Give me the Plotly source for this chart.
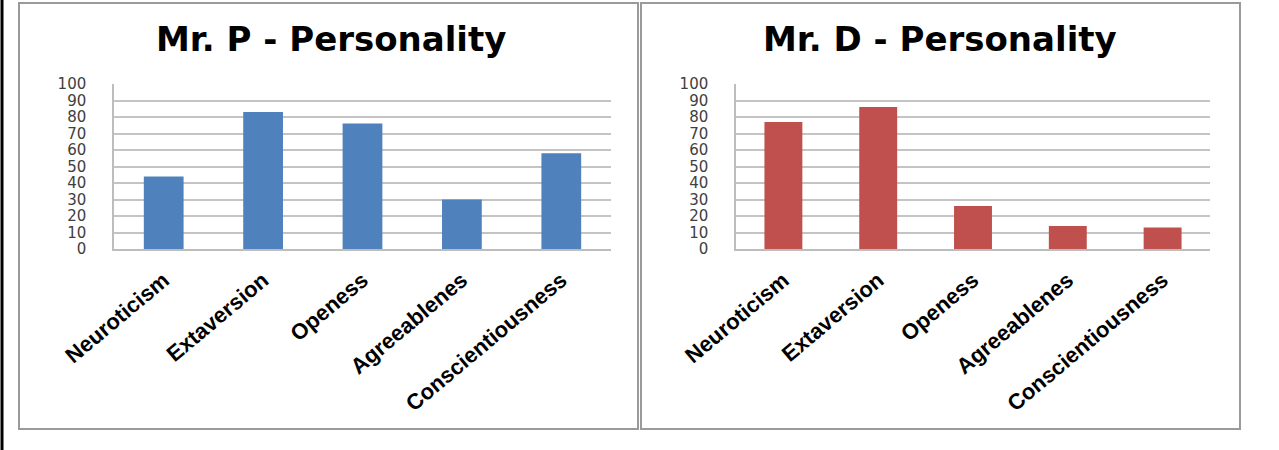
import plotly.graph_objects as go

# Big Five personality scores for two people
traits = ["Neuroticism", "Extaversion", "Openess", "Agreeablenes", "Conscientiousness"]
mr_p_scores = [44, 83, 76, 30, 58]
mr_d_scores = [77, 86, 26, 14, 13]
y_ticks = [0, 10, 20, 30, 40, 50, 60, 70, 80, 90, 100]

W, H = 1279, 450


def px_x(x):
    return x / W


def px_y(y):
    return 1 - y / H


fig = go.Figure()
fig.add_trace(go.Bar(x=traits, y=mr_p_scores, marker=dict(color="#4F81BD", line_width=0),
                     xaxis="x", yaxis="y", showlegend=False))
fig.add_trace(go.Bar(x=traits, y=mr_d_scores, marker=dict(color="#C0504D", line_width=0),
                     xaxis="x2", yaxis="y2", showlegend=False))

tick_font = dict(family="DejaVu Sans", size=15, color="#404040")
cat_font = dict(family="Liberation Sans", size=22, color="#000000", weight="bold")

yaxis_common = dict(
    range=[0, 100], tickvals=y_ticks, ticktext=[str(v) for v in y_ticks],
    showgrid=True, gridcolor="#c4c4c4", gridwidth=1.5,
    showline=True, linecolor="#bdbdbd", linewidth=1.5,
    ticks="outside", ticklen=23, tickcolor="rgba(0,0,0,0)",
    tickfont=tick_font, zeroline=False, fixedrange=True, automargin=False,
)
xaxis_common = dict(
    showline=True, linecolor="#bdbdbd", linewidth=1.5,
    tickangle=-40, tickfont=cat_font,
    ticks="outside", ticklen=8, tickcolor="rgba(0,0,0,0)",
    showgrid=False, fixedrange=True, automargin=False,
)

y_dom = [px_y(249), px_y(84)]
fig.update_layout(
    width=W, height=H,
    margin=dict(l=0, r=0, t=0, b=0, autoexpand=False),
    paper_bgcolor="white", plot_bgcolor="white",
    bargap=0.6,
    xaxis=dict(domain=[px_x(114), px_x(611)], anchor="y", **xaxis_common),
    yaxis=dict(domain=y_dom, anchor="x", **yaxis_common),
    xaxis2=dict(domain=[px_x(736), px_x(1210)], anchor="y2", **xaxis_common),
    yaxis2=dict(domain=y_dom, anchor="x2", **yaxis_common),
)

# Chart frames and the outer left rule
shapes = [
    dict(type="line", xref="paper", yref="paper", x0=px_x(2), x1=px_x(2), y0=0, y1=1,
         line=dict(color="#000000", width=3)),
    dict(type="rect", xref="paper", yref="paper", x0=px_x(19), x1=px_x(638), y0=px_y(429), y1=px_y(3),
         line=dict(color="#9a9a9a", width=2)),
    dict(type="rect", xref="paper", yref="paper", x0=px_x(641), x1=px_x(1240), y0=px_y(429), y1=px_y(3),
         line=dict(color="#9a9a9a", width=2)),
]
fig.update_layout(shapes=shapes)

title_font = dict(family="DejaVu Sans", size=34, color="#000000", weight="bold")
fig.add_annotation(text="Mr. P - Personality", x=px_x(331), y=px_y(39), xref="paper", yref="paper",
                   showarrow=False, font=title_font, xanchor="center", yanchor="middle")
fig.add_annotation(text="Mr. D - Personality", x=px_x(940), y=px_y(39), xref="paper", yref="paper",
                   showarrow=False, font=title_font, xanchor="center", yanchor="middle")

fig.write_html("out.html")
